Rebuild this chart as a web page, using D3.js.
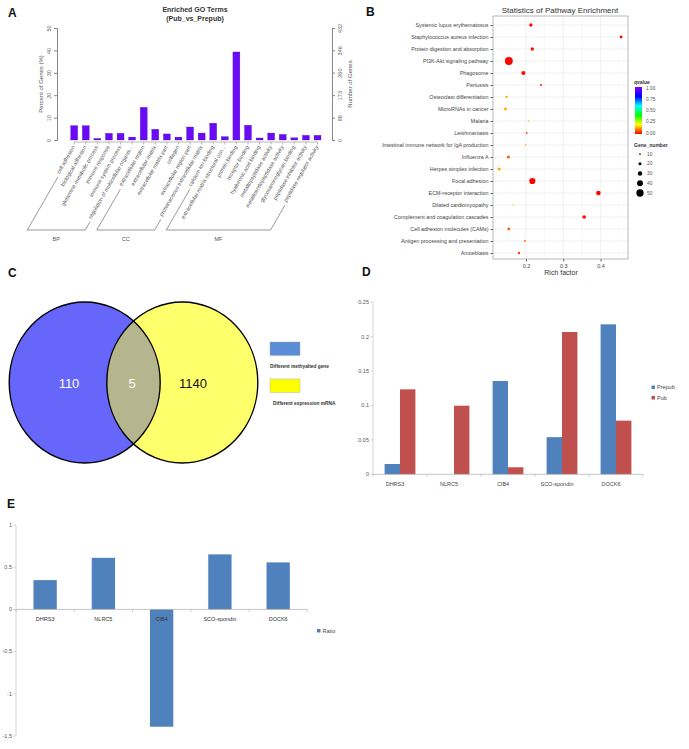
<!DOCTYPE html>
<html><head><meta charset="utf-8">
<script src="https://d3js.org/d3.v7.min.js"></script>
<style>
html,body{margin:0;padding:0;background:#fff;}
svg{display:block;font-family:"Liberation Sans",Arial,sans-serif;}
</style></head>
<body>
<svg id="chart" width="689" height="749"></svg>
<script>
// ---------- Panel A data ----------
const goTerms = ["cell adhesion","biological adhesion","glutamine metabolic process","immune response","immune system process","regulation of multicellular organis...","extracellular region","extracellular matrix","extracellular matrix part","collagen","extracellular region part","proteinaceous extracellular matrix","calcium ion binding","extracellular matrix structural con...","protein binding","receptor binding","hyaluronic acid binding","metallopeptidase activity","metalloendopeptidase activity","glycosaminoglycan binding","peptidase inhibitor activity","peptidase regulator activity"];
const goPercent = [6.4,6.4,0.7,3.0,3.0,1.3,14.6,4.8,2.7,1.3,5.8,3.1,7.5,1.5,39.3,6.6,0.9,3.1,2.5,1.0,2.1,2.1];
const goGroupNames = ["BP","CC","MF"];
const goGroupSizes = [6,6,10];
const goLeftTicks = [0,10,20,30,40,50];
const goRightTicks = [0,86,173,260,346,432];

// ---------- Panel B data ----------
const pathways = ["Systemic lupus erythematosus","Staphylococcus aureus infection","Protein digestion and absorption","PI3K-Akt signaling pathway","Phagosome","Pertussis","Osteoclast differentiation","MicroRNAs in cancer","Malaria","Leishmaniasis","Intestinal immune network for IgA production","Influenza A","Herpes simplex infection","Focal adhesion","ECM-receptor interaction","Dilated cardiomyopathy","Complement and coagulation cascades","Cell adhesion molecules (CAMs)","Antigen processing and presentation","Amoebiasis"];
const richFactor = [0.213,0.455,0.217,0.154,0.193,0.240,0.148,0.145,0.207,0.202,0.199,0.153,0.128,0.217,0.394,0.166,0.356,0.154,0.197,0.181];
const qvalue = [0.01,0.01,0.01,0.0,0.01,0.03,0.14,0.13,0.15,0.07,0.13,0.08,0.13,0.0,0.0,0.16,0.01,0.08,0.08,0.05];
const geneNumber = [22,18,22,54,28,13,14,18,9,11,9,20,20,42,30,9,24,18,11,15];
const richTicks = [0.2,0.3,0.4];
const qTicks = [1.00,0.75,0.50,0.25,0.00];
const geneTicks = [10,20,30,40,50];

// ---------- Panel C data ----------
const vennCounts = [110,5,1140];
const vennLegend = ["Different methyalted gene","Different expression mRNA"];

// ---------- Panel D / E data ----------
const genes = ["DHRS3","NLRC5","CIB4","SCO-spondin","DOCK6"];
const prepub = [0.015,0,0.1356,0.054,0.218];
const pub = [0.1235,0.0997,0.0102,0.2068,0.078];
const dTicks = [0,0.05,0.1,0.15,0.2,0.25];
const ratio = [0.347,0.611,-1.39,0.652,0.557];
const eTicks = [1,0.5,0,-0.5,-1,-1.5];

const svg = d3.select("#chart");
const defs = svg.append("defs");
const fmt = v => (v===0?"0":String(v));

// panel letters
[["A",8,17],["B",366,16],["C",8,277],["D",362,276],["E",7,508]].forEach(([t,x,y])=>{
  svg.append("text").attr("x",x).attr("y",y).attr("font-size",12).attr("font-weight","bold").attr("fill","#111").text(t);
});

// ================= Panel A =================
(function(){
  const g = svg.append("g");
  const x = d3.scaleBand().domain(goTerms).range([68.4,323.3]).paddingInner(0.4).paddingOuter(0.2);
  const y = d3.scaleLinear().domain([0,50]).range([140,28]);
  const yR = d3.scaleLinear().domain([0,432]).range([140,28]);
  g.append("text").attr("x",195).attr("y",12).attr("text-anchor","middle").attr("font-size",7).attr("font-weight","bold").attr("fill","#333").text("Enriched GO Terms");
  g.append("text").attr("x",195).attr("y",21).attr("text-anchor","middle").attr("font-size",7).attr("font-weight","bold").attr("fill","#333").text("(Pub_vs_Prepub)");
  g.selectAll("rect.bar").data(goPercent).join("rect").attr("class","bar")
    .attr("x",(d,i)=>x(goTerms[i])).attr("width",x.bandwidth())
    .attr("y",d=>y(d)).attr("height",d=>y(0)-y(d))
    .attr("fill","#6A0AF8").attr("stroke","#4b1aa0").attr("stroke-width",0.3);
  const la = g.append("g").attr("transform","translate(57,0)").call(d3.axisLeft(y).tickValues(goLeftTicks).tickSize(3).tickFormat(fmt));
  la.select(".domain").attr("stroke","#888");
  la.selectAll(".tick line").attr("stroke","#888");
  la.selectAll(".tick text").attr("font-size",5.5).attr("fill","#666").attr("x",0).attr("y",0)
    .attr("dy",0).attr("text-anchor","middle").attr("transform","translate(-6,0) rotate(-90)");
  const ra = g.append("g").attr("transform","translate(332,0)").call(d3.axisRight(yR).tickValues(goRightTicks).tickSize(3).tickFormat(fmt));
  ra.select(".domain").attr("stroke","#888");
  ra.selectAll(".tick line").attr("stroke","#888");
  ra.selectAll(".tick text").attr("font-size",5.5).attr("fill","#666").attr("x",0).attr("y",0).attr("dy",0)
    .attr("text-anchor","middle").attr("transform","translate(10,0) rotate(-90)");
  g.append("text").attr("transform","translate(43,84) rotate(-90)").attr("text-anchor","middle").attr("font-size",6).attr("fill","#555").text("Percent of Genes (%)");
  g.append("text").attr("transform","translate(352,84) rotate(-90)").attr("text-anchor","middle").attr("font-size",6).attr("fill","#555").text("Number of Genes");
  g.append("line").attr("x1",x(goTerms[0])+x.bandwidth()/2).attr("x2",x(goTerms[21])+x.bandwidth()/2).attr("y1",142).attr("y2",142).attr("stroke","#888").attr("stroke-width",0.6);
  const ang = 60, ca = Math.cos(ang*Math.PI/180), sa = Math.sin(ang*Math.PI/180);
  const ay = 147, bottomY = 230;
  const lens = [];
  goTerms.forEach((t,i)=>{
    const cx = x(t)+x.bandwidth()/2;
    g.append("line").attr("x1",cx).attr("x2",cx).attr("y1",142).attr("y2",144.5).attr("stroke","#888").attr("stroke-width",0.6);
    const tx = g.append("text").attr("transform",`translate(${cx+1},${ay}) rotate(-${ang})`).attr("text-anchor","end")
      .attr("font-size",5.4).attr("fill","#555").text(t);
    lens.push(tx.node().getComputedTextLength());
  });
  let start = 0;
  goGroupSizes.forEach((n,gi)=>{
    const i0 = start, i1 = start+n-1; start += n;
    const pt = (i, dist) => { const cx = x(goTerms[i])+x.bandwidth()/2+1; return [cx - dist*ca, ay + dist*sa]; };
    const tB = (bottomY-ay)/sa;
    const a0 = pt(i0, lens[i0]+3), b0 = pt(i0, tB), b1 = pt(i1, tB), a1 = pt(i1, lens[i1]+3);
    g.append("path").attr("d",d3.line()([a0,b0,b1,a1])).attr("fill","none").attr("stroke","#555").attr("stroke-width",0.6);
    g.append("text").attr("x",(b0[0]+b1[0])/2).attr("y",bottomY+11).attr("text-anchor","middle").attr("font-size",5.5).attr("fill","#555").text(goGroupNames[gi]);
  });
})();

// ================= Panel B =================
(function(){
  const g = svg.append("g");
  const L=493,R=628,T=16,B=259;
  const x = d3.scaleLinear().domain([0.2,0.4]).range([526,600.6]);
  const y = d3.scalePoint().domain(pathways).range([25,253]);
  const color = d3.scaleLinear().domain([0,0.2,0.4,0.6,0.8,1]).range(["#ff0000","#ffff00","#00ff00","#00ffff","#0000ff","#8000ff"]);
  const r = d3.scaleLinear().domain([5,55]).range([0.5,4]);
  g.append("text").attr("x",560).attr("y",13).attr("text-anchor","middle").attr("font-size",8).attr("fill","#333").text("Statistics of Pathway Enrichment");
  g.append("rect").attr("x",L).attr("y",T).attr("width",R-L).attr("height",B-T).attr("fill","#fff");
  [0.15,0.25,0.35,0.45].forEach(v=>g.append("line").attr("x1",x(v)).attr("x2",x(v)).attr("y1",T).attr("y2",B).attr("stroke","#f4f4f4").attr("stroke-width",0.5));
  richTicks.forEach(v=>g.append("line").attr("x1",x(v)).attr("x2",x(v)).attr("y1",T).attr("y2",B).attr("stroke","#e8e8e8").attr("stroke-width",0.6));
  pathways.forEach(p=>g.append("line").attr("x1",L).attr("x2",R).attr("y1",y(p)).attr("y2",y(p)).attr("stroke","#e8e8e8").attr("stroke-width",0.6));
  g.append("rect").attr("x",L).attr("y",T).attr("width",R-L).attr("height",B-T).attr("fill","none").attr("stroke","#999").attr("stroke-width",0.7);
  g.selectAll("circle.pt").data(pathways).join("circle").attr("class","pt")
    .attr("cx",(d,i)=>x(richFactor[i])).attr("cy",d=>y(d)).attr("r",(d,i)=>r(geneNumber[i]))
    .attr("fill",(d,i)=>color(qvalue[i]));
  const ya = g.append("g").attr("transform",`translate(${L},0)`).call(d3.axisLeft(y).tickSize(2.5).tickPadding(2));
  ya.select(".domain").remove();
  ya.selectAll(".tick line").attr("stroke","#666");
  ya.selectAll(".tick text").attr("font-size",5.4).attr("fill","#444");
  const xa = g.append("g").attr("transform",`translate(0,${B})`).call(d3.axisBottom(x).tickValues(richTicks).tickSize(2.5).tickFormat(d3.format(".1f")));
  xa.select(".domain").remove();
  xa.selectAll(".tick line").attr("stroke","#666");
  xa.selectAll(".tick text").attr("font-size",5.5).attr("fill","#444");
  g.append("text").attr("x",561).attr("y",275).attr("text-anchor","middle").attr("font-size",7).attr("fill","#333").text("Rich factor");
  g.append("text").attr("x",634).attr("y",84).attr("font-size",5).attr("font-weight","bold").attr("fill","#333").text("qvalue");
  const grad = defs.append("linearGradient").attr("id","qgrad").attr("x1",0).attr("x2",0).attr("y1",1).attr("y2",0);
  d3.range(0,1.0001,0.1).forEach(v=>grad.append("stop").attr("offset",v).attr("stop-color",color(v)));
  const qy = d3.scaleLinear().domain([0,1]).range([133,88]);
  g.append("rect").attr("x",635).attr("y",qy(1)-1).attr("width",7).attr("height",qy(0)-qy(1)+2).attr("fill","url(#qgrad)");
  qTicks.forEach(v=>{
    g.append("text").attr("x",646).attr("y",qy(v)+1.7).attr("font-size",4.8).attr("fill","#555").text(v.toFixed(2));
  });
  g.append("text").attr("x",634).attr("y",147).attr("font-size",5).attr("font-weight","bold").attr("fill","#333").text("Gene_number");
  const gy = d3.scalePoint().domain(geneTicks).range([154,193]);
  geneTicks.forEach(v=>{
    g.append("circle").attr("cx",640).attr("cy",gy(v)).attr("r",r(v)).attr("fill","#000");
    g.append("text").attr("x",647).attr("y",gy(v)+1.7).attr("font-size",4.8).attr("fill","#555").text(v);
  });
})();

// ================= Panel C =================
(function(){
  const g = svg.append("g");
  const cy = 382.5, rx = 75.5, ry = 80.5;
  const cxL = 84.7, cxR = 182.3;
  defs.append("clipPath").attr("id","clipL").append("ellipse").attr("cx",cxL).attr("cy",cy).attr("rx",rx).attr("ry",ry);
  g.append("ellipse").attr("cx",cxL).attr("cy",cy).attr("rx",rx).attr("ry",ry).attr("fill","#6666FA");
  g.append("ellipse").attr("cx",cxR).attr("cy",cy).attr("rx",rx).attr("ry",ry).attr("fill","#FFFF6B");
  g.append("ellipse").attr("cx",cxR).attr("cy",cy).attr("rx",rx).attr("ry",ry).attr("fill","#B6B68E").attr("clip-path","url(#clipL)");
  g.append("ellipse").attr("cx",cxL).attr("cy",cy).attr("rx",rx).attr("ry",ry).attr("fill","none").attr("stroke","#000").attr("stroke-width",1.4);
  g.append("ellipse").attr("cx",cxR).attr("cy",cy).attr("rx",rx).attr("ry",ry).attr("fill","none").attr("stroke","#000").attr("stroke-width",1.4);
  const pos = [[69,"#fff"],[132,"#fff"],[193,"#111"]];
  vennCounts.forEach((v,i)=>g.append("text").attr("x",pos[i][0]).attr("y",cy+5).attr("text-anchor","middle").attr("font-size",13).attr("fill",pos[i][1]).text(v));
  const lc = ["#5B8DD6","#FFFF00"];
  vennLegend.forEach((t,i)=>{
    const yy = 342 + i*37;
    g.append("rect").attr("x",270).attr("y",yy).attr("width",30).attr("height",13.5).attr("fill",lc[i]).attr("stroke","#9aa").attr("stroke-width",0.4);
    g.append("text").attr("x",270 + i*3).attr("y",yy+26).attr("font-size",4.8).attr("font-weight","bold").attr("fill","#333").text(t);
  });
})();

// ================= Panel D =================
(function(){
  const g = svg.append("g");
  const x0 = d3.scaleBand().domain(genes).range([373,643]).paddingInner(0.43).paddingOuter(0.215);
  const x1 = d3.scaleBand().domain(["Prepub","Pub"]).range([0,x0.bandwidth()]);
  const y = d3.scaleLinear().domain([0,0.25]).range([474.3,302.3]);
  g.append("line").attr("x1",373).attr("x2",373).attr("y1",y(0.25)).attr("y2",y(0)).attr("stroke","#bbb").attr("stroke-width",0.6);
  dTicks.forEach(v=>{
    g.append("line").attr("x1",370.5).attr("x2",373).attr("y1",y(v)).attr("y2",y(v)).attr("stroke","#bbb").attr("stroke-width",0.6);
    g.append("text").attr("x",369).attr("y",y(v)+1.8).attr("text-anchor","end").attr("font-size",5.5).attr("fill","#555").text(fmt(v));
  });
  g.selectAll("rect.pre").data(prepub).join("rect").attr("class","pre")
    .attr("x",(d,i)=>x0(genes[i])+x1("Prepub")).attr("width",x1.bandwidth())
    .attr("y",d=>y(d)).attr("height",d=>y(0)-y(d)).attr("fill","#4F81BD");
  g.selectAll("rect.pub").data(pub).join("rect").attr("class","pub")
    .attr("x",(d,i)=>x0(genes[i])+x1("Pub")).attr("width",x1.bandwidth())
    .attr("y",d=>y(d)).attr("height",d=>y(0)-y(d)).attr("fill","#C0504D");
  g.append("line").attr("x1",373).attr("x2",643).attr("y1",y(0)).attr("y2",y(0)).attr("stroke","#aaa").attr("stroke-width",0.7);
  d3.range(genes.length+1).forEach(i=>{
    const xx = 373 + i*(270/genes.length);
    g.append("line").attr("x1",xx).attr("x2",xx).attr("y1",y(0)).attr("y2",y(0)+2.5).attr("stroke","#aaa").attr("stroke-width",0.6);
  });
  genes.forEach(gn=>g.append("text").attr("x",x0(gn)+x0.bandwidth()/2-5).attr("y",486).attr("text-anchor","middle").attr("font-size",5.5).attr("fill","#444").text(gn));
  ["Prepub","Pub"].forEach((s,i)=>{
    g.append("rect").attr("x",651.5).attr("y",385.5+i*10.5).attr("width",3.5).attr("height",3.5).attr("fill",i?"#C0504D":"#4F81BD");
    g.append("text").attr("x",657).attr("y",389.3+i*10.5).attr("font-size",5.5).attr("fill","#444").text(s);
  });
})();

// ================= Panel E =================
(function(){
  const g = svg.append("g");
  const x = d3.scaleBand().domain(genes).range([16,307.3]).paddingInner(0.6).paddingOuter(0.3);
  const y = d3.scaleLinear().domain([-1.5,1]).range([736,525]);
  g.append("line").attr("x1",16).attr("x2",16).attr("y1",y(1)).attr("y2",y(-1.5)).attr("stroke","#bbb").attr("stroke-width",0.6);
  eTicks.forEach(v=>{
    g.append("line").attr("x1",13.5).attr("x2",16).attr("y1",y(v)).attr("y2",y(v)).attr("stroke","#bbb").attr("stroke-width",0.6);
    g.append("text").attr("x",12).attr("y",y(v)+1.8).attr("text-anchor","end").attr("font-size",5.5).attr("fill","#555").text(fmt(v));
  });
  g.selectAll("rect.r").data(ratio).join("rect").attr("class","r")
    .attr("x",(d,i)=>x(genes[i])).attr("width",x.bandwidth())
    .attr("y",d=>y(Math.max(0,d))).attr("height",d=>Math.abs(y(d)-y(0))).attr("fill","#4F81BD");
  g.append("line").attr("x1",16).attr("x2",307.3).attr("y1",y(0)).attr("y2",y(0)).attr("stroke","#aaa").attr("stroke-width",0.7);
  d3.range(genes.length+1).forEach(i=>{
    const xx = 16 + i*(291.3/genes.length);
    g.append("line").attr("x1",xx).attr("x2",xx).attr("y1",y(0)).attr("y2",y(0)+2.5).attr("stroke","#aaa").attr("stroke-width",0.6);
  });
  genes.forEach(gn=>g.append("text").attr("x",x(gn)+x.bandwidth()/2).attr("y",y(0)+12).attr("text-anchor","middle").attr("font-size",5.5).attr("fill","#333").text(gn));
  g.append("rect").attr("x",317).attr("y",629).attr("width",3.5).attr("height",3.5).attr("fill","#4F81BD");
  g.append("text").attr("x",322.5).attr("y",633).attr("font-size",5.5).attr("fill","#444").text("Ratio");
})();
</script>
</body></html>
